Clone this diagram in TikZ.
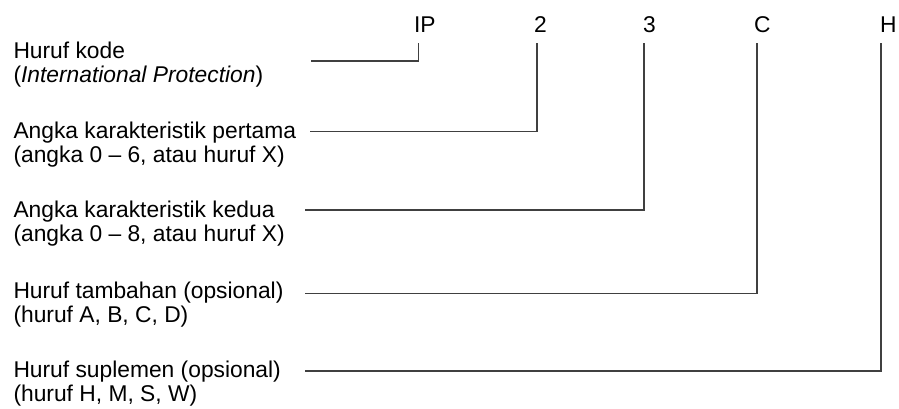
\documentclass[tikz,border=0pt]{standalone}
\usepackage{fontspec}
\setmainfont{Liberation Sans}
\begin{document}
\begin{tikzpicture}[x=1pt,y=-1pt,
  txt/.style={anchor=base west,inner sep=0pt,outer sep=0pt,font=\fontsize{22.8}{24.5}\selectfont},
  code/.style={anchor=base west,inner sep=0pt,outer sep=0pt,font=\fontsize{22.8}{24.5}\selectfont},
  conn/.style={draw=black!75,line width=1.6pt,line cap=butt,line join=miter}]
\useasboundingbox (0,0) rectangle (899,408);
% code letters
\node[code] (ip) at (414,32.5) {IP};
\node[code] (c2) at (534,32.5) {2};
\node[code] (c3) at (643,32.5) {3};
\node[code] (cc) at (754,32.5) {C};
\node[code] (ch) at (880,32.5) {H};
% descriptions
\node[txt] (d1) at (13.5,58.5) {Huruf kode};
\node[txt] (d1b) at (13.5,82.8) {(\textit{International Protection})};
\node[txt] (d2) at (13.5,138.3) {Angka karakteristik pertama};
\node[txt] (d2b) at (13.5,162.6) {(angka 0 – 6, atau huruf X)};
\node[txt] (d3) at (13.5,217.3) {Angka karakteristik kedua};
\node[txt] (d3b) at (13.5,241.6) {(angka 0 – 8, atau huruf X)};
\node[txt] (d4) at (13.5,298) {Huruf tambahan (opsional)};
\node[txt] (d4b) at (13.5,322.3) {(huruf A, B, C, D)};
\node[txt] (d5) at (13.5,377) {Huruf suplemen (opsional)};
\node[txt] (d5b) at (13.5,401.3) {(huruf H, M, S, W)};
% connector ends
\coordinate (s1) at (311,60.7);
\coordinate (s2) at (310,131.5);
\coordinate (s3) at (305,210);
\coordinate (s4) at (305,293.5);
\coordinate (s5) at (305,371);
\coordinate (t1) at ([xshift=4.5pt,yshift=-10.5pt]ip.base west);
\coordinate (t2) at ([xshift=3pt,yshift=-10.5pt]c2.base west);
\coordinate (t3) at ([xshift=1pt,yshift=-10.5pt]c3.base west);
\coordinate (t4) at ([xshift=3pt,yshift=-10.5pt]cc.base west);
\coordinate (t5) at ([xshift=1pt,yshift=-10.5pt]ch.base west);
% connectors
\draw[conn] (s1) -| (t1);
\draw[conn] (s2) -| (t2);
\draw[conn] (s3) -| (t3);
\draw[conn] (s4) -| (t4);
\draw[conn] (s5) -| (t5);
\end{tikzpicture}
\end{document}
